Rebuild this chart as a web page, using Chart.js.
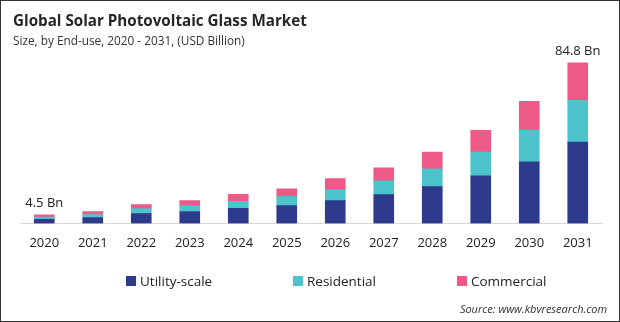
<!DOCTYPE html>
<html>
<head>
<meta charset="utf-8">
<script src="https://cdn.jsdelivr.net/npm/chart.js@4.4.1/dist/chart.umd.min.js"></script>
<style>
  html, body { margin: 0; padding: 0; background: #fff; }
  #wrap {
    position: relative; width: 620px; height: 322px; box-sizing: border-box;
    border: 1px solid #333; overflow: hidden;
    font-family: "Open Sans", "Noto Sans", sans-serif; color: #222;
  }
  #title { position: absolute; left: 12px; top: 9px; font-size: 15.2px; font-weight: bold; color: #262626; }
  #subtitle { position: absolute; left: 12px; top: 31px; font-size: 11.8px; color: #333; }
  #chart { position: absolute; left: 0; top: 0; }
  .leg { position: absolute; top: 271px; font-size: 13.5px; color: #222; }
  .leg i { display: inline-block; width: 10px; height: 10px; margin-right: 4px; vertical-align: 0px; }
  #source { position: absolute; right: 12px; top: 300px; font-size: 11px; font-style: italic; color: #333; }
</style>
</head>
<body>
<div id="wrap">
  <canvas id="chart" width="620" height="322"></canvas>
  <div id="title">Global Solar Photovoltaic Glass Market</div>
  <div id="subtitle">Size, by End-use, 2020 - 2031, (USD Billion)</div>
  <div class="leg" style="left:125px"><i style="background:#2E3A8C"></i>Utility-scale</div>
  <div class="leg" style="left:292px"><i style="background:#4DC3CC"></i>Residential</div>
  <div class="leg" style="left:456px"><i style="background:#EE5A87"></i>Commercial</div>
  <div id="source">Source: www.kbvresearch.com</div>
</div>
<script>
// data
const years = ["2020", "2021", "2022", "2023", "2024", "2025", "2026", "2027", "2028", "2029", "2030", "2031"];
const utility = [2.2, 3.1, 5.2, 6.3, 7.9, 9.4, 12.0, 15.2, 19.4, 25.1, 32.5, 42.9];
const residential = [1.2, 1.6, 2.6, 3.1, 3.7, 4.7, 5.8, 7.3, 9.4, 12.6, 16.8, 22.0];
const commercial = [1.1, 1.6, 2.1, 2.6, 3.7, 4.2, 5.8, 6.8, 8.9, 11.5, 15.2, 19.9];
const endLabels = { 0: "4.5 Bn", 11: "84.8 Bn" };

// total labels above first and last bar
const totalLabels = {
  id: "totalLabels",
  afterDatasetsDraw(chart) {
    const c = chart.ctx;
    const meta = chart.getDatasetMeta(2);
    c.save();
    c.font = "13px 'Open Sans', sans-serif";
    c.fillStyle = "#222";
    c.textAlign = "center";
    c.textBaseline = "bottom";
    Object.keys(endLabels).forEach(i => {
      const bar = meta.data[i];
      c.fillText(endLabels[i], bar.x, bar.y - 5);
    });
    c.restore();
  }
};

const ctx = document.getElementById("chart").getContext("2d");
new Chart(ctx, {
  type: "bar",
  data: {
    labels: years,
    datasets: [
      { label: "Utility-scale", data: utility, backgroundColor: "#2E3A8C" },
      { label: "Residential", data: residential, backgroundColor: "#4DC3CC" },
      { label: "Commercial", data: commercial, backgroundColor: "#EE5A87" }
    ]
  },
  options: {
    responsive: false,
    animation: false,
    layout: { padding: { left: 19, right: 19, top: 33, bottom: 68 } },
    datasets: { bar: { barThickness: 20 } },
    plugins: { legend: { display: false }, tooltip: { enabled: false } },
    scales: {
      x: {
        stacked: true,
        grid: { display: false },
        border: { color: "#d9d9d9", width: 1 },
        ticks: { color: "#222", font: { size: 13, family: "'Open Sans', sans-serif" }, padding: 4 }
      },
      y: { stacked: true, display: false, min: 0, max: 100 }
    }
  },
  plugins: [totalLabels]
});
</script>
</body>
</html>
